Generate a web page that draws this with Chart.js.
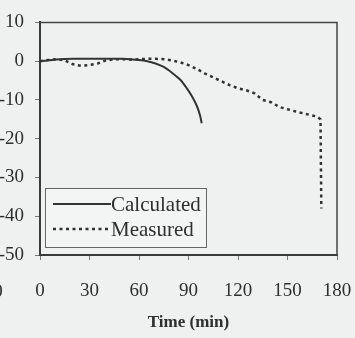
<!DOCTYPE html>
<html>
<head>
<meta charset="utf-8">
<script src="https://cdn.jsdelivr.net/npm/chart.js@4/dist/chart.umd.min.js"></script>
<style>
  html, body { margin: 0; padding: 0; background: #eff1f0; }
  canvas { display: block; }
</style>
</head>
<body>
<canvas id="c" width="355" height="338"></canvas>
<script>
// Time axis (min) and deflection values
const calcTime   = [0, 10, 20, 30, 40, 50, 60, 65, 70, 75, 80, 85, 89, 92, 95, 97, 98];
const calcValue  = [0, 0.4, 0.6, 0.6, 0.6, 0.6, 0.3, 0, -0.6, -1.5, -3, -4.8, -7, -9, -11.5, -14, -16];

const measTime   = [0, 5, 10, 15, 20, 25, 30, 35, 40, 45, 50, 55, 60, 65, 70, 75, 80, 85, 90, 95, 100,
                    105, 110, 115, 120, 125, 130, 135, 140, 145, 150, 155, 160, 165, 168, 170, 170.5];
const measValue  = [0, 0.3, 0.5, 0.2, -0.8, -1.2, -1.0, -0.6, 0.2, 0.5, 0.5, 0.4, 0.5, 0.6, 0.6, 0.5, 0.2, -0.3, -1, -2, -3.2,
                    -4.2, -5.2, -6.2, -7, -7.5, -8.3, -10, -10.6, -11.8, -12.4, -13, -13.5, -14, -14.3, -15, -38];

const seriesNames = ['Calculated', 'Measured'];
const xTicks = [0, 30, 60, 90, 120, 150, 180];
const yTicks = [10, 0, -10, -20, -30, -40, -50];
const xTitle = 'Time (min)';

const ink = '#2e2e2e';
const serif = '"Liberation Serif", "Times New Roman", serif';

function pairs(xs, ys) { return xs.map((x, i) => ({ x: x, y: ys[i] })); }

// Frame on top and right of the plot area
const framePlugin = {
  id: 'frame',
  afterDraw(chart) {
    const { ctx, chartArea: a } = chart;
    ctx.save();
    ctx.strokeStyle = '#444';
    ctx.lineWidth = 1.5;
    ctx.beginPath();
    ctx.moveTo(a.left, a.top);
    ctx.lineTo(a.right, a.top);
    ctx.lineTo(a.right, a.bottom);
    ctx.stroke();
    ctx.restore();
  }
};

// Boxed legend in the lower left of the plot
const boxLegend = {
  id: 'boxLegend',
  afterDraw(chart) {
    const { ctx, chartArea: a } = chart;
    const x0 = a.left + 5, y0 = a.bottom - 67, w = 161, h = 59;
    ctx.save();
    ctx.fillStyle = '#f3f5f4';
    ctx.fillRect(x0, y0, w, h);
    ctx.strokeStyle = '#666';
    ctx.lineWidth = 1;
    ctx.strokeRect(x0 + 0.5, y0 + 0.5, w, h);
    chart.data.datasets.forEach((ds, i) => {
      const yy = y0 + 16 + i * 25;
      ctx.strokeStyle = ds.borderColor;
      ctx.lineWidth = ds.borderWidth;
      ctx.setLineDash(ds.borderDash || []);
      ctx.beginPath();
      ctx.moveTo(x0 + 8, yy);
      ctx.lineTo(x0 + 66, yy);
      ctx.stroke();
      ctx.setLineDash([]);
      ctx.fillStyle = ink;
      ctx.font = '21px ' + serif;
      ctx.textAlign = 'left';
      ctx.textBaseline = 'middle';
      ctx.fillText(ds.label, x0 + 66, yy + 1);
    });
    ctx.restore();
  }
};

// Label fragment at the left edge of the page
const edgeText = {
  id: 'edgeText',
  afterDraw(chart) {
    const { ctx } = chart;
    ctx.save();
    ctx.fillStyle = ink;
    ctx.font = '19px ' + serif;
    ctx.textAlign = 'center';
    ctx.textBaseline = 'middle';
    ctx.fillText('0', -2, 292);
    ctx.restore();
  }
};

new Chart(document.getElementById('c'), {
  type: 'line',
  data: {
    datasets: [
      {
        label: seriesNames[0],
        data: pairs(calcTime, calcValue),
        borderColor: '#333',
        borderWidth: 2,
        pointRadius: 0,
        tension: 0.3,
        fill: false
      },
      {
        label: seriesNames[1],
        data: pairs(measTime, measValue),
        borderColor: '#333',
        borderWidth: 2.5,
        borderDash: [3, 3.5],
        pointRadius: 0,
        tension: 0,
        fill: false
      }
    ]
  },
  options: {
    responsive: false,
    animation: false,
    layout: { padding: { left: 0, right: 0, top: 22, bottom: 0 } },
    plugins: {
      legend: { display: false },
      tooltip: { enabled: false }
    },
    scales: {
      x: {
        type: 'linear',
        min: 0, max: 180,
        afterFit(s) { s.height = 83; s.paddingRight = 18; },
        afterBuildTicks(s) { s.ticks = xTicks.map(v => ({ value: v })); },
        grid: { drawOnChartArea: false, drawTicks: true, tickLength: 5, color: '#777', tickWidth: 1 },
        border: { display: true, color: '#3a3a3a', width: 2 },
        ticks: { color: ink, padding: 20, maxRotation: 0, font: { family: serif, size: 19 } },
        title: {
          display: true, text: xTitle, color: ink,
          font: { family: serif, size: 17, weight: 'bold' },
          padding: { top: 0, bottom: 5 }
        }
      },
      y: {
        type: 'linear',
        min: -50, max: 10,
        afterFit(s) { s.width = 40; },
        afterBuildTicks(s) { s.ticks = yTicks.map(v => ({ value: v })); },
        grid: { drawOnChartArea: false, drawTicks: true, tickLength: 5, color: '#777', tickWidth: 1 },
        border: { display: true, color: '#3a3a3a', width: 2 },
        ticks: { color: ink, padding: 11, font: { family: serif, size: 19 } }
      }
    }
  },
  plugins: [framePlugin, boxLegend, edgeText]
});
</script>
</body>
</html>
